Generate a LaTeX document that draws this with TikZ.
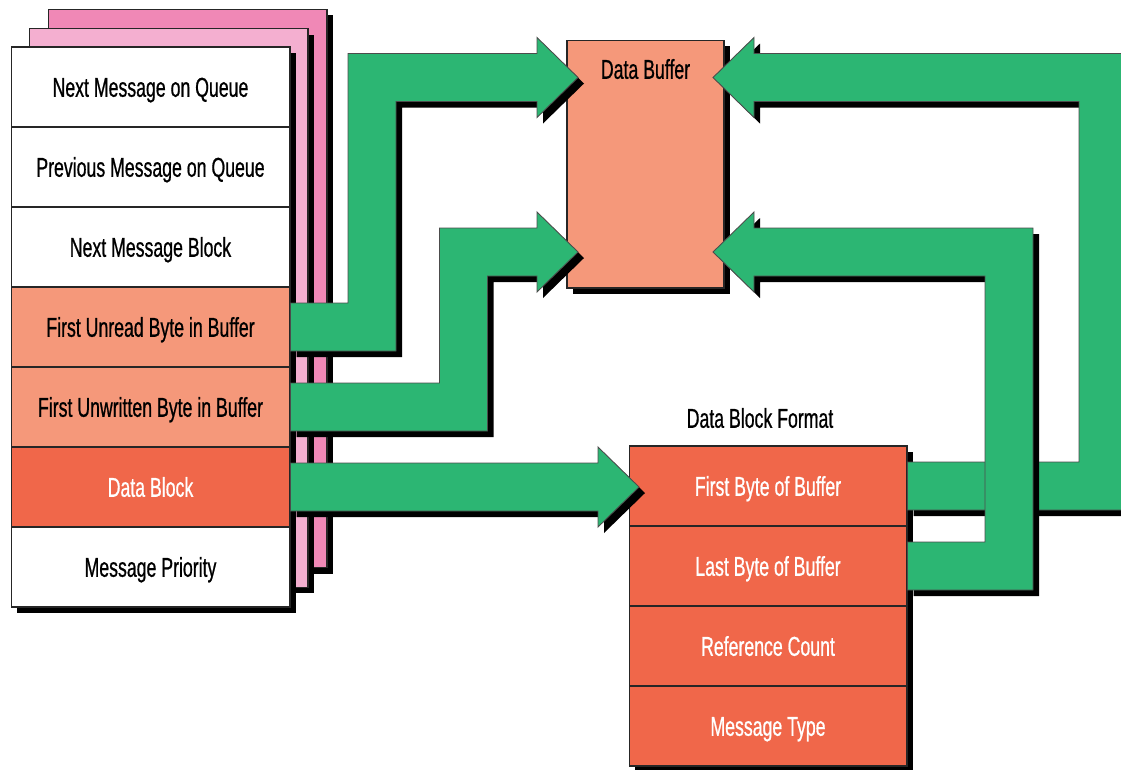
\documentclass[tikz,border=0pt]{standalone}
\usepackage{fontspec}
\setmainfont[FakeStretch=0.65,FakeBold=0.7]{Liberation Sans}
\usepackage{tikz}
\usetikzlibrary{calc}
\definecolor{FlowGreen}{RGB}{44,182,115}
\definecolor{FieldLight}{RGB}{245,152,122}
\definecolor{FieldDark}{RGB}{240,103,74}
\definecolor{PageLight}{RGB}{244,175,208}
\definecolor{PageDark}{RGB}{240,136,182}

\newcommand{\fatarrow}[4]{%
  \path[fat] let \p1=(#1), \p2=(#2), \p3=(#3) in
    (\x1,{\y1+0.48cm}) -- ({\x2-0.48cm},{\y1+0.48cm}) -- ({\x2-0.48cm},{\y3+(#4)*0.48cm})
    -- ({\x3-(#4)*0.82cm},{\y3+(#4)*0.48cm}) -- ({\x3-(#4)*0.82cm},{\y3+(#4)*0.8cm}) -- (\x3,\y3)
    -- ({\x3-(#4)*0.82cm},{\y3-(#4)*0.8cm}) -- ({\x3-(#4)*0.82cm},{\y3-(#4)*0.48cm})
    -- ({\x2+0.48cm},{\y3-(#4)*0.48cm}) -- ({\x2+0.48cm},{\y1-0.48cm}) -- (\x1,{\y1-0.48cm}) -- cycle;}

\begin{document}
\begin{tikzpicture}[x=0.02cm,y=-0.02cm,
    shadowed/.style={preaction={draw=none,fill=black,transform canvas={shift={(6,6)}}}},
    txt/.style={font=\fontsize{15.5}{18}\selectfont,text height=11.1pt,text depth=0pt,inner sep=0pt},
    page/.style={shadowed,draw=black!85,line width=0.6pt,minimum width=5.58cm,minimum height=11.18cm},
    field/.style={shadowed,txt,draw=black!85,line width=0.6pt,minimum width=5.58cm,minimum height=1.6cm},
    plainfield/.style={field,fill=white},
    lightfield/.style={field,fill=FieldLight},
    darkfield/.style={field,fill=FieldDark,text=white},
    fat/.style={shadowed,fill=FlowGreen,draw=black!70,line width=0.5pt,line join=miter}
  ]
  \useasboundingbox (0,0) rectangle (1121,769);
  \clip (0,0) rectangle (1121,769);

  \node[page,fill=PageDark]  (back) at (187.5,288.5) {};
  \node[page,fill=PageLight] (mid)  at (168.5,308) {};
  \node[plainfield] (next)      at (150.5,87)  {Next Message on Queue};
  \node[plainfield] (prev)      at (150.5,167) {Previous Message on Queue};
  \node[plainfield] (nextblock) at (150.5,247) {Next Message Block};
  \node[lightfield] (unread)    at (150.5,327) {First Unread Byte in Buffer};
  \node[lightfield] (unwritten) at (150.5,407) {First Unwritten Byte in Buffer};
  \node[darkfield]  (datablock) at (150.5,487) {Data Block};
  \node[plainfield] (priority)  at (150.5,567) {Message Priority};

  \node[shadowed,draw=black!85,line width=0.6pt,fill=FieldLight,
        minimum width=3.14cm,minimum height=4.96cm] (buffer) at (645.5,164) {};
  \node[txt] (buftitle) at (645.5,69) {Data Buffer};

  \node[txt] (fmttitle) at (760,418) {Data Block Format};
  \node[darkfield,minimum width=5.56cm] (firstbyte) at (768,486) {First Byte of Buffer};
  \node[darkfield,minimum width=5.56cm] (lastbyte)  at (768,566) {Last Byte of Buffer};
  \node[darkfield,minimum width=5.56cm] (refcount)  at (768,646) {Reference Count};
  \node[darkfield,minimum width=5.56cm] (msgtype)   at (768,726) {Message Type};

  \coordinate (bendA) at (372,326);
  \coordinate (tipA)  at (578,77.5);
  \coordinate (bendB) at (463.5,406);
  \coordinate (tipB)  at (578,252);
  \coordinate (bendC) at (450,486);
  \coordinate (tipC)  at (639,487);
  \coordinate (bendD) at (1103,486);
  \coordinate (tipD)  at (713,77.5);
  \coordinate (bendE) at (1009,566);
  \coordinate (tipE)  at (713,252);

  \fatarrow{unread.east}{bendA}{tipA}{1}
  \fatarrow{unwritten.east}{bendB}{tipB}{1}
  \fatarrow{datablock.east}{bendC}{tipC}{1}
  \fatarrow{firstbyte.east}{bendD}{tipD}{-1}
  \fatarrow{lastbyte.east}{bendE}{tipE}{-1}
\end{tikzpicture}
\end{document}
